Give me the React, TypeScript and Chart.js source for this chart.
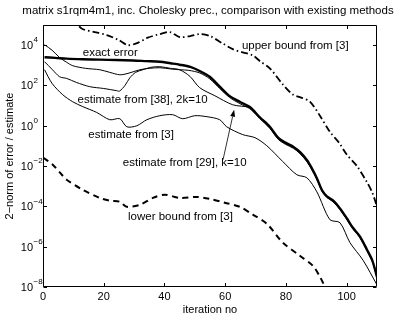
import React, { useEffect, useRef } from 'react';
import { Chart, registerables } from 'chart.js';

Chart.register(...registerables);

// ---- data (y values stored as log10 exponents) ----
const exactX = [0.5, 4, 7.8, 13, 18.7, 24, 29.6, 34, 38.5, 42, 45, 48.5, 51.6, 54.9, 58.2, 61.5, 64.8, 68.1, 71.4, 74.7, 77.5, 80, 82.5, 84.6, 86.9, 88.5, 90.2, 91.9, 93.5, 95.6, 97.8, 100.1, 102, 104.4, 106.7, 108.5, 110];
const exactLog = [3.40, 3.37, 3.33, 3.30, 3.28, 3.26, 3.24, 3.21, 3.18, 3.1, 3.03, 2.92, 2.72, 2.43, 1.94, 1.47, 1.19, 0.93, 0.42, -0.05, -0.6, -0.85, -1.05, -1.3, -1.7, -2.1, -2.6, -3.2, -3.5, -3.72, -4.1, -4.6, -5.05, -5.5, -6.15, -6.7, -7.5];

const est38X = [0.5, 3, 5.5, 7.8, 9.8, 14, 18.7, 22, 25.3, 28, 31.9, 35, 38.5, 42, 45, 48, 51.6, 54.9, 58.2, 61.5, 64.8, 68.1, 71.4, 74.7, 77.5, 80, 82.5, 84.6, 86.9, 88.5, 90.2, 91.9, 93.5, 95.6, 97.8, 100.1, 102, 104.4, 106.7, 108.5, 110];
const est38Log = [4.02, 3.75, 3.38, 3.15, 2.98, 2.85, 2.78, 2.65, 2.53, 2.6, 2.78, 2.85, 2.88, 2.82, 2.78, 2.75, 2.62, 2.33, 1.85, 1.40, 1.10, 0.85, 0.36, -0.13, -0.68, -0.93, -1.12, -1.38, -1.78, -2.17, -2.66, -3.26, -3.56, -3.78, -4.16, -4.66, -5.1, -5.56, -6.2, -6.75, -7.55];

const est29X = [0.5, 3, 5.5, 7.8, 11, 15.4, 20, 24.3, 25.2, 27, 28.6, 30.5, 32.9, 35.5, 38.5, 42, 45, 48.4, 51.6, 56.6, 62.5, 68.1, 71.4, 74.7, 77.5, 80, 82.5, 84.6, 86.9, 88.5, 90.2, 91.9, 93.5, 95.6, 97.8, 100.1, 102, 104.4, 106.7, 108.5, 110];
const est29Log = [3.18, 2.8, 2.43, 2.35, 2.15, 1.94, 1.85, 1.74, 1.72, 2.0, 2.38, 2.65, 2.78, 2.9, 2.93, 2.85, 2.78, 2.45, 1.89, 1.49, 1.04, 0.89, 0.40, -0.08, -0.64, -0.89, -1.08, -1.34, -1.74, -2.13, -2.62, -3.22, -3.52, -3.74, -4.12, -4.62, -5.07, -5.52, -6.17, -6.72, -7.52];

const est3X = [0.5, 3, 6.5, 9.8, 13.1, 17.7, 22, 25.3, 27.6, 30.9, 34.2, 38.5, 42.7, 46, 50, 54, 58.2, 60.5, 65.8, 69.8, 73.7, 79, 83.6, 86.9, 90.2, 94.5, 97.8, 101.1, 105.4, 110];
const est3Log = [2.78, 2.1, 1.54, 1.19, 0.95, 0.66, 0.30, 0.35, -0.05, 0.0, 0.30, 0.50, 0.55, 0.35, 0.50, 0.45, 0.30, -0.05, -0.44, -0.59, -0.99, -1.78, -2.43, -2.58, -3.28, -4.66, -4.81, -5.80, -6.67, -7.9];

const upperX = [9, 11.5, 13, 17, 21, 25, 28, 31, 34.5, 38.5, 41.8, 45, 48.5, 51.6, 55, 59, 62.5, 65.5, 69, 71.5, 74.7, 79, 82.3, 85, 87.9, 91.2, 94.5, 97.5, 100.1, 103.4, 106.7, 108.4, 110];
const upperLog = [5.5, 5.0, 4.8, 4.65, 4.5, 4.25, 4.0, 4.1, 4.37, 4.55, 4.65, 4.4, 4.45, 4.55, 4.45, 4.1, 3.8, 3.65, 3.5, 3.2, 2.85, 2.05, 1.55, 1.4, 1.2, 0.5, -0.3, -0.84, -1.44, -2.0, -2.8, -3.3, -4.0];

const lowerX = [0.1, 3.2, 6.2, 7.8, 13.1, 18.7, 22, 25.3, 27.6, 31.9, 36.2, 40.1, 45, 50.6, 54.9, 59.9, 64.8, 69.1, 73.7, 79, 84.6, 88.9, 91.2, 92.9];
const lowerLog = [-1.59, -1.93, -2.43, -2.68, -3.18, -3.58, -3.72, -3.77, -4.02, -3.92, -3.58, -3.42, -3.58, -3.53, -3.63, -3.82, -4.02, -4.41, -4.86, -5.80, -6.45, -6.95, -7.49, -8.0];

const xTicks = [0, 20, 40, 60, 80, 100];
const yTickExps = [-8, -6, -4, -2, 0, 2, 4];

const labelTexts = ['exact error', 'estimate from [38], 2k=10', 'estimate from [3]', 'estimate from [29], k=10', 'upper bound from [3]', 'lower bound from [3]'];
const labelX = [13.1, 11.4, 14.9, 26.3, 65.5, 28];
const labelLog = [3.62, 1.29, -0.44, -1.83, 3.97, -4.51];
const arrowFrom = [59.3, -1.68];
const arrowTo = [62.95, 0.80];

const TITLE = 'matrix s1rqm4m1, inc. Cholesky prec., comparison with existing methods';
const XTITLE = 'iteration no';
const YTITLE = '2\u2212norm of error / estimate';

const FONT = '"Liberation Sans", Arial, Helvetica, sans-serif';

function pts(xs: number[], ls: number[]) {
  return xs.map((x, i) => ({ x, y: Math.pow(10, ls[i]) }));
}

const overlay = {
  id: 'overlay',
  afterDraw(chart: any) {
    const { ctx, chartArea: a, scales } = chart;
    const xs = scales.x;
    const ys = scales.y;
    ctx.save();
    ctx.strokeStyle = '#000';
    ctx.fillStyle = '#000';
    ctx.lineWidth = 1;
    // box
    const L = Math.round(a.left) + 0.5, R = Math.round(a.right) - 0.5;
    const T = Math.round(a.top) + 0.5, B = Math.round(a.bottom) - 0.5;
    ctx.beginPath();
    ctx.rect(L, T, R - L, B - T);
    ctx.stroke();
    const tl = 3.5;
    ctx.beginPath();
    xTicks.forEach((v) => {
      const px = Math.round(xs.getPixelForValue(v)) + 0.5;
      ctx.moveTo(px, B); ctx.lineTo(px, B - tl);
      ctx.moveTo(px, T); ctx.lineTo(px, T + tl);
    });
    yTickExps.forEach((e) => {
      const py = Math.round(ys.getPixelForValue(Math.pow(10, e))) + 0.5;
      ctx.moveTo(L, py); ctx.lineTo(L + tl, py);
      ctx.moveTo(R, py); ctx.lineTo(R - tl, py);
    });
    ctx.stroke();
    // x tick labels
    ctx.font = '11px ' + FONT;
    ctx.textAlign = 'center';
    ctx.textBaseline = 'middle';
    xTicks.forEach((v) => {
      ctx.fillText(String(v), xs.getPixelForValue(v), B + 10);
    });
    // y tick labels with superscript
    yTickExps.forEach((e) => {
      const py = ys.getPixelForValue(Math.pow(10, e));
      ctx.font = '11px ' + FONT;
      ctx.textAlign = 'right';
      ctx.textBaseline = 'middle';
      ctx.fillText('10', 33, py + 1);
      ctx.font = '8px ' + FONT;
      ctx.textAlign = 'left';
      ctx.fillText(e < 0 ? '\u2212' + String(-e) : String(e), 33.5, py - 5);
    });
    // titles
    ctx.font = '11.5px ' + FONT;
    ctx.textAlign = 'center';
    ctx.textBaseline = 'middle';
    ctx.fillText(TITLE, 208, 11);
    ctx.font = '11px ' + FONT;
    ctx.fillText(XTITLE, (a.left + a.right) / 2, 310);
    ctx.save();
    ctx.translate(10, (a.top + a.bottom) / 2);
    ctx.rotate(-Math.PI / 2);
    ctx.fillText(YTITLE, 0, 0);
    ctx.restore();
    // annotations
    ctx.font = '11.5px ' + FONT;
    ctx.textAlign = 'left';
    ctx.textBaseline = 'middle';
    labelTexts.forEach((t, i) => {
      ctx.fillText(t, xs.getPixelForValue(labelX[i]), ys.getPixelForValue(Math.pow(10, labelLog[i])));
    });
    // arrow
    const x0 = xs.getPixelForValue(arrowFrom[0]);
    const y0 = ys.getPixelForValue(Math.pow(10, arrowFrom[1]));
    const x1 = xs.getPixelForValue(arrowTo[0]);
    const y1 = ys.getPixelForValue(Math.pow(10, arrowTo[1]));
    const ang = Math.atan2(y1 - y0, x1 - x0);
    const hl = 7, hw = 2.5;
    const bx = x1 - hl * Math.cos(ang), by = y1 - hl * Math.sin(ang);
    ctx.lineWidth = 0.8;
    ctx.beginPath();
    ctx.moveTo(x0, y0); ctx.lineTo(bx, by);
    ctx.stroke();
    ctx.beginPath();
    ctx.moveTo(x1, y1);
    ctx.lineTo(bx + hw * Math.sin(ang), by - hw * Math.cos(ang));
    ctx.lineTo(bx - hw * Math.sin(ang), by + hw * Math.cos(ang));
    ctx.closePath();
    ctx.fill();
    ctx.restore();
  },
};

export default function App() {
  const ref = useRef<HTMLCanvasElement | null>(null);
  useEffect(() => {
    if (!ref.current) return;
    const common = { pointRadius: 0, borderColor: '#000', backgroundColor: '#000', fill: false, tension: 0.3 };
    const chart = new Chart(ref.current, {
      type: 'line',
      data: {
        datasets: [
          { ...common, label: 'upper bound from [3]', data: pts(upperX, upperLog), borderWidth: 1.8, borderDash: [7, 3, 1.5, 3] },
          { ...common, label: 'lower bound from [3]', data: pts(lowerX, lowerLog), borderWidth: 2, borderDash: [6, 4.5] },
          { ...common, label: 'estimate from [3]', data: pts(est3X, est3Log), borderWidth: 1 },
          { ...common, label: 'estimate from [29], k=10', data: pts(est29X, est29Log), borderWidth: 1 },
          { ...common, label: 'estimate from [38], 2k=10', data: pts(est38X, est38Log), borderWidth: 1 },
          { ...common, label: 'exact error', data: pts(exactX, exactLog), borderWidth: 2.4 },
        ],
      },
      options: {
        responsive: false,
        animation: false,
        parsing: true,
        layout: { padding: { left: 43, top: 25, right: 22, bottom: 32 } },
        plugins: { legend: { display: false }, title: { display: false }, tooltip: { enabled: false } },
        scales: {
          x: { type: 'linear', min: 0, max: 110, display: false },
          y: { type: 'logarithmic', min: 1e-8, max: 1e5, display: false },
        },
      },
      plugins: [overlay],
    } as any);
    return () => chart.destroy();
  }, []);
  return (
    <canvas
      ref={ref}
      width={399}
      height={319}
      style={{ position: 'fixed', left: 0, top: 0, width: 399, height: 319, background: '#fff' }}
    />
  );
}
